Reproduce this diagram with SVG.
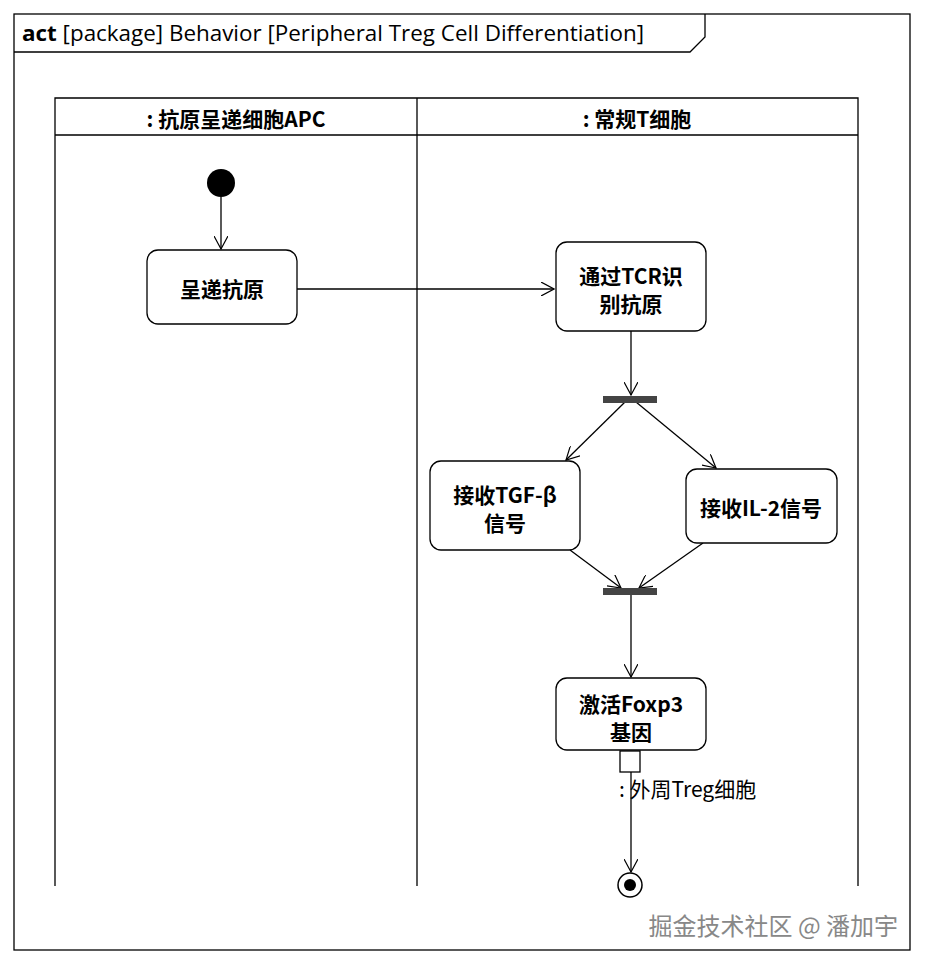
<svg xmlns="http://www.w3.org/2000/svg" width="925" height="966" viewBox="0 0 925 966">
<defs>
<marker id="arr" viewBox="0 0 14 14" refX="13" refY="7" markerWidth="14" markerHeight="14" markerUnits="userSpaceOnUse" orient="auto">
<path d="M0,0 L13,7 L0,14" fill="none" stroke="#000" stroke-width="1.2"/>
</marker>
<style>
.ln{stroke:#000;stroke-width:1.3;fill:none}
.act{fill:#fff;stroke:#000;stroke-width:1.3}
.t{font-family:"Noto Sans CJK SC","Noto Sans",sans-serif;font-size:21px;font-weight:bold;text-anchor:middle}
.bar{fill:#444}
</style>
</defs>
<rect width="925" height="966" fill="#fff"/>
<g id="frame">
<rect x="14" y="14" width="896" height="936" class="ln"/>
<path d="M14,52 H690 L705,37 V14" class="ln"/>
<text x="22" y="41" font-family="'Open Sans','Noto Sans',sans-serif" font-size="22" textLength="622" lengthAdjust="spacingAndGlyphs"><tspan font-weight="bold">act</tspan> [package] Behavior [Peripheral Treg Cell Differentiation]</text>
</g>
<g id="lanes">
<path d="M55,886 V98 H858 V886 M55,135 H858 M417,98 V886" class="ln"/>
<text x="236" y="127" class="t">: 抗原呈递细胞APC</text>
<text x="637" y="127" class="t">: 常规T细胞</text>
</g>
<g id="connectors">
<line x1="221" y1="197" x2="221" y2="249" class="ln" marker-end="url(#arr)"/>
<line x1="297" y1="289" x2="554" y2="289" class="ln" marker-end="url(#arr)"/>
<line x1="631" y1="331" x2="631" y2="395" class="ln" marker-end="url(#arr)"/>
<line x1="625" y1="402" x2="566" y2="460" class="ln" marker-end="url(#arr)"/>
<line x1="636" y1="402" x2="716" y2="468" class="ln" marker-end="url(#arr)"/>
<line x1="570" y1="550" x2="621" y2="588" class="ln" marker-end="url(#arr)"/>
<line x1="703" y1="543" x2="639" y2="588" class="ln" marker-end="url(#arr)"/>
<line x1="631" y1="595" x2="631" y2="677" class="ln" marker-end="url(#arr)"/>
<line x1="631" y1="772" x2="631" y2="872" class="ln" marker-end="url(#arr)"/>
</g>
<g id="initial"><circle cx="221" cy="183" r="14" fill="#000"/></g>
<g id="a1"><rect x="147" y="250" width="150" height="74" rx="11" class="act"/><text x="222" y="297" class="t">呈递抗原</text></g>
<g id="a2"><rect x="556" y="242" width="150" height="89" rx="11" class="act"/><text x="631" y="284" class="t">通过TCR识</text><text x="631" y="312" class="t">别抗原</text></g>
<g id="fork"><rect x="603" y="396" width="54" height="7" class="bar"/></g>
<g id="a3"><rect x="430" y="461" width="150" height="89" rx="11" class="act"/><text x="505" y="503" class="t">接收TGF-β</text><text x="505" y="531" class="t">信号</text></g>
<g id="a4"><rect x="686" y="469" width="151" height="74" rx="11" class="act"/><text x="761" y="516" class="t">接收IL-2信号</text></g>
<g id="join"><rect x="603" y="588" width="54" height="7" class="bar"/></g>
<g id="a5"><rect x="556" y="678" width="150" height="72" rx="11" class="act"/><text x="631" y="712" class="t">激活Foxp3</text><text x="631" y="740" class="t">基因</text></g>
<g id="pin"><rect x="620" y="751" width="20" height="21" class="act"/><text x="619" y="797" font-family="'Noto Sans CJK SC','Noto Sans',sans-serif" font-size="21">: 外周Treg细胞</text></g>
<g id="final"><circle cx="630" cy="885" r="12" fill="#fff" stroke="#000" stroke-width="1.5"/><circle cx="630" cy="885" r="6" fill="#000"/></g>
<text x="898" y="935" text-anchor="end" font-family="'Noto Sans CJK SC',sans-serif" font-size="24" fill="#888">掘金技术社区 @ 潘加宇</text>
</svg>
